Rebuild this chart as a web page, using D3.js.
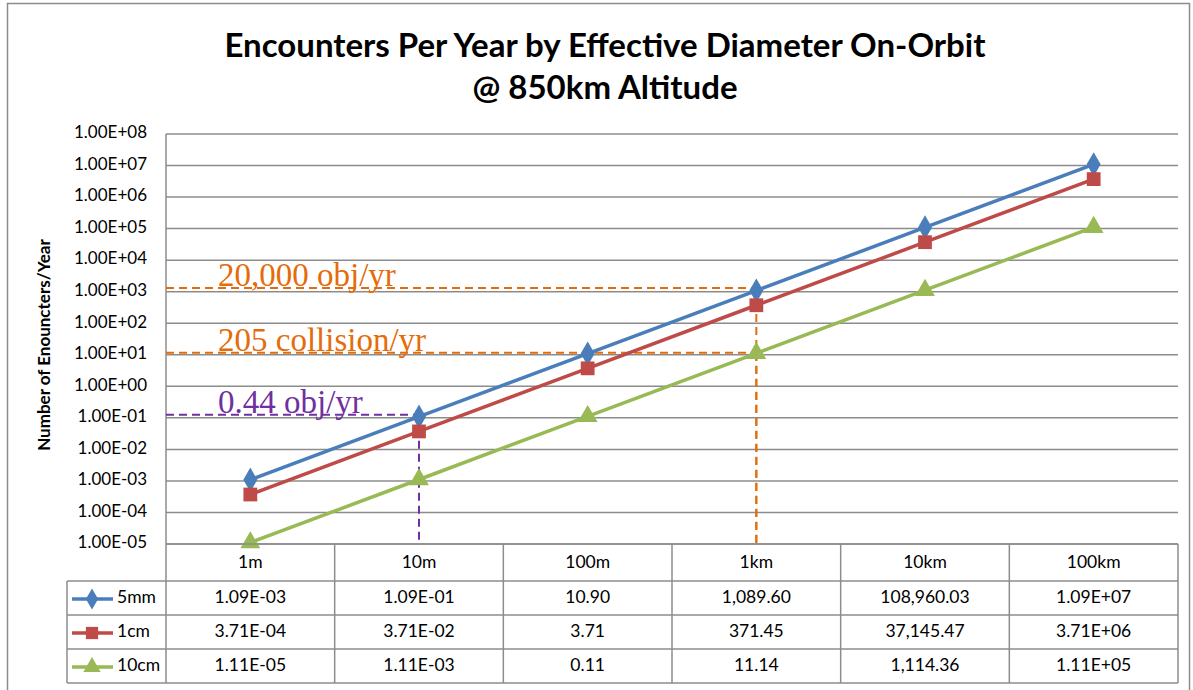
<!DOCTYPE html>
<html>
<head>
<meta charset="utf-8">
<script src="https://cdn.jsdelivr.net/npm/d3@7"></script>
<style>
  body { margin: 0; background: #fff; }
  svg { display: block; }
</style>
</head>
<body>
<div id="chart"></div>
<script>
// Categories (effective diameter)
const categories = ["1m", "10m", "100m", "1km", "10km", "100km"];

// Series values (encounters per year)
const series5mm = [1.09e-3, 1.09e-1, 10.90, 1089.60, 108960.03, 1.09e7];
const series1cm = [3.71e-4, 3.71e-2, 3.71, 371.45, 37145.47, 3.71e6];
const series10cm = [1.11e-5, 1.11e-3, 0.1114, 11.14, 1114.36, 1.11e5];

const seriesNames = ["5mm", "1cm", "10cm"];
const seriesColors = ["#4A7EBB", "#BE4B48", "#98B954"];
const seriesShapes = [d3.symbolDiamond, d3.symbolSquare, d3.symbolTriangle];

// Y axis ticks
const yTicks = [1e-5, 1e-4, 1e-3, 1e-2, 1e-1, 1e0, 1e1, 1e2, 1e3, 1e4, 1e5, 1e6, 1e7, 1e8];

// Annotations (level, category where the drop line falls)
const annoLabels = ["20,000 obj/yr", "205 collision/yr", "0.44 obj/yr"];
const annoLevels = [1300, 11.5, 0.125];
const annoCats = ["1km", "1km", "10m"];
const annoColors = ["#E46C0A", "#E46C0A", "#7030A0"];

const W = 1193, H = 690;
const plot = { left: 166, right: 1178, top: 134, bottom: 544 };
const headH = 37, rowH = 34;
const sans = "Lato, 'Open Sans', sans-serif";

const svg = d3.select("#chart").append("svg")
  .attr("width", W)
  .attr("height", H);

// chart frame
svg.append("rect")
  .attr("x", 7.5).attr("y", 3.5)
  .attr("width", 1182).attr("height", 700)
  .attr("fill", "#fff")
  .attr("stroke", "#8c8c8c")
  .attr("stroke-width", 1.5);

// title
svg.append("text")
  .attr("x", 605).attr("y", 57)
  .attr("text-anchor", "middle")
  .attr("font-family", sans)
  .attr("font-weight", "bold")
  .attr("font-size", "33px")
  .text("Encounters Per Year by Effective Diameter On-Orbit");
svg.append("text")
  .attr("x", 605).attr("y", 99)
  .attr("text-anchor", "middle")
  .attr("font-family", sans)
  .attr("font-weight", "bold")
  .attr("font-size", "33px")
  .text("@ 850km Altitude");

// scales
const x = d3.scaleBand()
  .domain(categories)
  .range([plot.left, plot.right]);

const y = d3.scaleLog()
  .domain([1e-5, 1e8])
  .range([plot.bottom, plot.top]);

function expFmt(v) {
  const s = v.toExponential(2).split("e");
  const e = +s[1];
  return s[0] + "E" + (e < 0 ? "-" : "+") + String(Math.abs(e)).padStart(2, "0");
}
function cellFmt(v) {
  if (v < 0.11 || v >= 1.1e5) return expFmt(v);
  return d3.format(",.2f")(v);
}

// gridlines
svg.selectAll(".grid")
  .data(yTicks)
  .enter()
  .append("line")
  .attr("class", "grid")
  .attr("x1", plot.left)
  .attr("x2", plot.right)
  .attr("y1", d => y(d))
  .attr("y2", d => y(d))
  .attr("stroke", "#8c8c8c")
  .attr("stroke-width", 1.5);

// left axis line
svg.append("line")
  .attr("x1", plot.left).attr("x2", plot.left)
  .attr("y1", plot.top).attr("y2", plot.bottom)
  .attr("stroke", "#8c8c8c")
  .attr("stroke-width", 1.5);

// y tick labels
svg.selectAll(".ylab")
  .data(yTicks)
  .enter()
  .append("text")
  .attr("class", "ylab")
  .attr("x", 147)
  .attr("y", d => y(d))
  .attr("text-anchor", "end")
  .attr("dominant-baseline", "middle")
  .attr("font-family", sans)
  .attr("font-size", "17px")
  .text(d => expFmt(d));

// y axis title
svg.append("text")
  .attr("transform", `translate(50, ${(plot.top + plot.bottom) / 2 + 6}) rotate(-90)`)
  .attr("text-anchor", "middle")
  .attr("font-family", sans)
  .attr("font-weight", "bold")
  .attr("font-size", "17px")
  .text("Number of Enouncters/Year");

// annotations: dashed guide lines and labels
annoLevels.forEach((lv, i) => {
  const cx = x(annoCats[i]) + x.bandwidth() / 2;
  const g = svg.append("g")
    .attr("stroke", annoColors[i])
    .attr("stroke-width", 2)
    .attr("stroke-dasharray", "8,5")
    .attr("fill", "none");
  g.append("line")
    .attr("x1", plot.left).attr("x2", cx)
    .attr("y1", y(lv)).attr("y2", y(lv));
  g.append("line")
    .attr("x1", cx).attr("x2", cx)
    .attr("y1", y(lv)).attr("y2", plot.bottom);
  svg.append("text")
    .attr("x", 218)
    .attr("y", y(lv) - 2)
    .attr("font-family", "'Liberation Serif', 'DejaVu Serif', serif")
    .attr("font-size", "33px")
    .attr("fill", annoColors[i])
    .text(annoLabels[i]);
});

// series lines and markers
const allSeries = [series5mm, series1cm, series10cm];
const line = d3.line()
  .x((d, i) => x(categories[i]) + x.bandwidth() / 2)
  .y(d => y(d));

allSeries.forEach((vals, s) => {
  svg.append("path")
    .datum(vals)
    .attr("fill", "none")
    .attr("stroke", seriesColors[s])
    .attr("stroke-width", 3.5)
    .attr("d", line);
});
allSeries.forEach((vals, s) => {
  svg.selectAll(".pt" + s)
    .data(vals)
    .enter()
    .append("path")
    .attr("class", "pt" + s)
    .attr("transform", (d, i) => `translate(${x(categories[i]) + x.bandwidth() / 2},${y(d)})`)
    .attr("d", d3.symbol().type(seriesShapes[s]).size(s === 1 ? 190 : 170))
    .attr("fill", seriesColors[s]);
});

// data table
const tbl = svg.append("g")
  .attr("font-family", sans)
  .attr("font-size", "17.5px")
  .attr("fill", "#000");
const tableTop = plot.bottom;
const legendLeft = 67;
const rowTops = [0, 1, 2, 3, 4].map(r => tableTop + (r === 0 ? 0 : headH + (r - 1) * rowH));
const tableBottom = rowTops[4];

// horizontal borders
rowTops.forEach((ry, r) => {
  tbl.append("line")
    .attr("x1", r === 0 ? plot.left : legendLeft)
    .attr("x2", plot.right)
    .attr("y1", ry)
    .attr("y2", ry)
    .attr("stroke", "#8c8c8c")
    .attr("stroke-width", 1.5);
});
// vertical borders
tbl.append("line")
  .attr("x1", legendLeft).attr("x2", legendLeft)
  .attr("y1", rowTops[1]).attr("y2", tableBottom)
  .attr("stroke", "#8c8c8c").attr("stroke-width", 1.5);
categories.concat(["end"]).forEach((c, i) => {
  const xx = i < categories.length ? x(c) : plot.right;
  tbl.append("line")
    .attr("x1", xx).attr("x2", xx)
    .attr("y1", tableTop).attr("y2", tableBottom)
    .attr("stroke", "#8c8c8c").attr("stroke-width", 1.5);
});

// category header
tbl.selectAll(".cat")
  .data(categories)
  .enter()
  .append("text")
  .attr("x", d => x(d) + x.bandwidth() / 2)
  .attr("y", tableTop + headH / 2 + 1)
  .attr("text-anchor", "middle")
  .attr("dominant-baseline", "middle")
  .text(d => d);

// rows
allSeries.forEach((vals, s) => {
  const ry = rowTops[s + 1] + rowH / 2 + 1;
  tbl.selectAll(".cell" + s)
    .data(vals)
    .enter()
    .append("text")
    .attr("x", (d, i) => x(categories[i]) + x.bandwidth() / 2)
    .attr("y", ry)
    .attr("text-anchor", "middle")
    .attr("dominant-baseline", "middle")
    .text(d => cellFmt(d));
  // legend key
  tbl.append("line")
    .attr("x1", 72).attr("x2", 113)
    .attr("y1", ry).attr("y2", ry)
    .attr("stroke", seriesColors[s])
    .attr("stroke-width", 3.5);
  tbl.append("path")
    .attr("transform", `translate(92,${ry})`)
    .attr("d", d3.symbol().type(seriesShapes[s]).size(s === 1 ? 150 : 130))
    .attr("fill", seriesColors[s]);
  tbl.append("text")
    .attr("x", 117)
    .attr("y", ry)
    .attr("dominant-baseline", "middle")
    .text(seriesNames[s]);
});
</script>
</body>
</html>
